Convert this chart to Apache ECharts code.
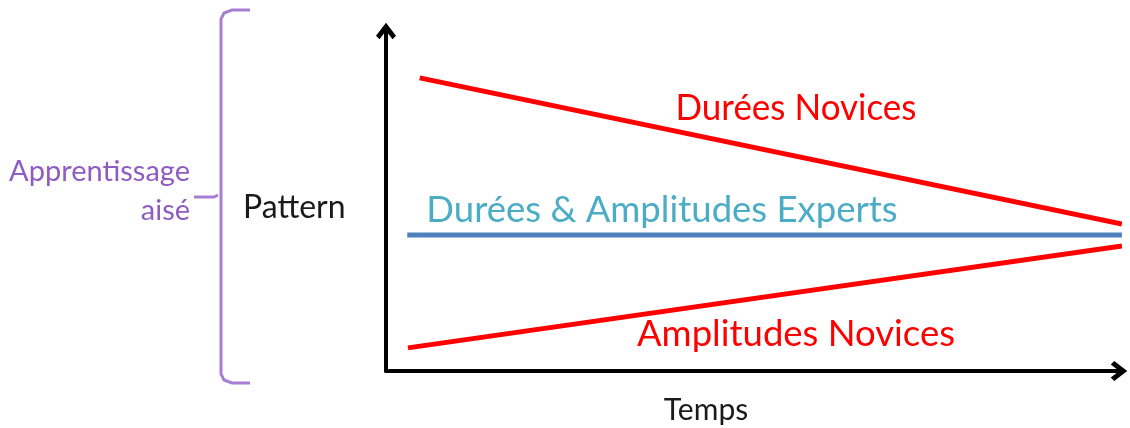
<!DOCTYPE html>
<html>
<head>
<meta charset="utf-8">
<script src="https://cdn.jsdelivr.net/npm/echarts@6/dist/echarts.min.js"></script>
<style>
	html, body { margin: 0; padding: 0; background: #fff; }
	#chart { width: 1130px; height: 428px; }
</style>
</head>
<body>
<div id="chart"></div>
<script>
/* 時間軸 (x) 與各條線的值 */
const dureesNovicesX = [0.46, 10.04];
const dureesNovicesY = [86.2, 43.2];
const expertsX = [0.29, 10.04];
const expertsY = [40.0, 40.0];
const amplitudesNovicesX = [0.3, 10.04];
const amplitudesNovicesY = [6.8, 36.8];

const FONT = "Lato, 'Open Sans', sans-serif";

const chart = echarts.init(document.getElementById("chart"));

/* 座標軸：只有線與箭頭 */
const arrowPath = "path://M10,0 L20,13 L16.5,16.5 L10,8 L3.5,16.5 L0,13 Z";
const axisCommon = {
	type: "value",
	axisLine: {
		show: true,
		onZero: false,
		symbol: ["none", arrowPath],
		symbolSize: [20, 18],
		lineStyle: { color: "#000", width: 4 },
	},
	axisTick: { show: false },
	axisLabel: { show: false },
	splitLine: { show: false },
};

const toPairs = (xs, ys) => xs.map((x, i) => [x, ys[i]]);

/* 文字標籤 */
const label = (text, x, y, size, color, align, sy) => ({
	type: "text",
	x: x,
	y: y,
	scaleY: sy || 1,
	style: {
		text: text,
		x: 0,
		y: 0,
		fill: color,
		font: `${size}px ${FONT}`,
		align: align || "center",
		verticalAlign: "middle",
	},
});

const braceColor = "#a67fd3";

chart.setOption({
	animation: false,
	grid: { left: 386, right: 11, top: 31, bottom: 57 },
	xAxis: Object.assign({}, axisCommon, { min: 0, max: 10 }),
	yAxis: Object.assign({}, axisCommon, { min: 0, max: 100 }),
	series: [
		{
			type: "line",
			name: "Durées Novices",
			data: toPairs(dureesNovicesX, dureesNovicesY),
			showSymbol: false,
			clip: false,
			lineStyle: { color: "#ff0000", width: 5 },
		},
		{
			type: "line",
			name: "Durées & Amplitudes Experts",
			data: toPairs(expertsX, expertsY),
			showSymbol: false,
			clip: false,
			lineStyle: { color: "#4f81bd", width: 5 },
		},
		{
			type: "line",
			name: "Amplitudes Novices",
			data: toPairs(amplitudesNovicesX, amplitudesNovicesY),
			showSymbol: false,
			clip: false,
			lineStyle: { color: "#ff0000", width: 5 },
		},
	],
	graphic: [
		label("Durées Novices", 796, 108, 35, "#ff0000", "center", 1.05),
		label("Durées & Amplitudes Experts", 662, 210, 36.5, "#4bacc6", "center", 1.0),
		label("Amplitudes Novices", 796, 334, 36.5, "#ff0000", "center", 1.02),
		label("Temps", 706, 410, 30, "#1a1a1a", "center"),
		label("Pattern", 243, 208, 32, "#1a1a1a", "left"),
		label("Apprentissage", 190, 172, 29, "#8e5cc2", "right"),
		label("aisé", 190, 211, 29, "#8e5cc2", "right"),
		{
			type: "polyline",
			shape: {
				points: [[250, 10], [232, 10], [224, 13], [221, 19], [221, 374], [224, 380], [232, 383], [250, 383]],
			},
			style: { stroke: braceColor, lineWidth: 3, fill: null },
		},
		{
			type: "polyline",
			shape: { points: [[194, 197], [214, 197], [218, 195]] },
			style: { stroke: braceColor, lineWidth: 3, fill: null },
		},
	],
});
</script>
</body>
</html>
